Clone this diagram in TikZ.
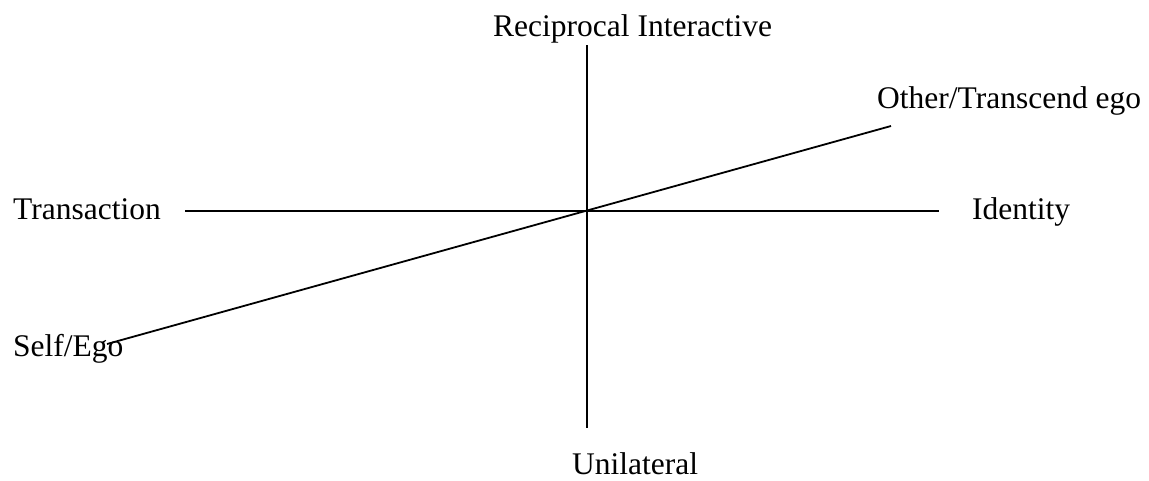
\documentclass[tikz,border=0pt]{standalone}
\usepackage{fontspec}
\setmainfont{Liberation Serif}
\begin{document}
\begin{tikzpicture}[x=1pt,y=-1pt,
  lbl/.style={anchor=base west,inner sep=0pt,font=\fontsize{31.5}{38}\selectfont},
  axis/.style={line width=1.8pt,black}]
\useasboundingbox (0,0) rectangle (1149,480);
\coordinate (top) at (587,45);
\coordinate (bot) at (587,428);
\coordinate (left) at (185,211);
\coordinate (right) at (939,211);
\coordinate (sw) at (107,344);
\coordinate (ne) at (891,126);
\draw[axis] (top) -- (bot);
\draw[axis] (left) -- (right);
\draw[axis] (sw) -- (ne);
\node[lbl] (recip) at (493,36) {Reciprocal Interactive};
\node[lbl] (other) at (877,108) {Other/Transcend ego};
\node[lbl] (trans) at (13,219) {Transaction};
\node[lbl] (ident) at (972,219) {Identity};
\node[lbl] (self) at (13,356) {Self/Ego};
\node[lbl] (unil) at (572,474) {Unilateral};
\end{tikzpicture}
\end{document}
